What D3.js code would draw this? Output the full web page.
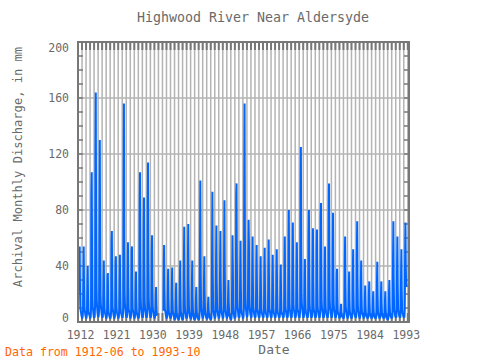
<!DOCTYPE html>
<html>
<head>
<meta charset="utf-8">
<script src="https://cdn.jsdelivr.net/npm/d3@7"></script>
<style>
  html, body { margin: 0; padding: 0; background: #fff; }
  svg { display: block; }
  text { font-family: "DejaVu Sans Mono", monospace; }
</style>
</head>
<body>
<script>
// ---- Data ----
const title = "Highwood River Near Aldersyde";
const yTitle = "Archival Monthly Discharge, in mm";
const xTitle = "Date";
const note = "Data from 1912-06 to 1993-10";
const startYear = 1912;
const startMonth = 6;
const xTickYears = [1912, 1921, 1930, 1939, 1948, 1957, 1966, 1975, 1984, 1993];
const yTickValues = [0, 40, 80, 120, 160, 200];
// monthly discharge (mm), starting 1912-06; null = missing
const discharge = [
  54,24,10,8,7,5,4,
  3,3,4,8,30,54,26,11,8,7,5,4,
  3,3,4,9,28,40,18,8,6,6,5,4,
  3,3,4,10,91,107,45,16,10,9,6,4,
  4,3,5,12,119,164,70,25,14,11,7,5,
  4,4,5,10,72,130,58,20,12,10,7,5,
  4,3,4,9,30,44,20,9,7,6,5,4,
  3,3,4,10,33,35,15,7,6,5,4,3,
  3,3,4,10,57,65,28,11,8,7,5,4,
  3,3,4,9,42,47,20,9,7,6,5,4,
  3,3,4,9,30,48,22,9,7,6,5,4,
  4,3,5,11,90,156,62,22,13,10,7,5,
  4,3,4,9,35,57,25,10,8,7,5,4,
  3,3,4,9,51,54,24,10,8,7,5,4,
  3,3,4,8,28,36,16,8,6,5,4,3,
  3,3,4,10,82,107,48,18,11,9,6,4,
  4,3,4,10,66,89,38,15,10,8,6,4,
  4,3,5,10,85,114,48,17,11,9,6,4,
  4,3,4,9,51,62,27,11,8,7,5,4,
  3,3,4,8,18,25,12,6,5,5,null,null,
  null,null,null,null,null,null,null,null,null,null,null,null,
  null,null,null,8,42,55,24,10,8,7,5,4,
  3,3,4,8,26,38,17,8,6,5,4,3,
  3,3,4,8,27,39,18,8,6,5,4,3,
  2,2,3,7,20,28,12,5,4,3,3,2,
  2,2,3,7,30,44,19,7,5,4,3,2,
  2,2,3,8,45,68,30,11,7,6,4,3,
  3,3,4,9,46,70,30,11,7,6,4,3,
  3,2,3,8,30,44,19,8,5,4,3,2,
  2,2,3,6,18,25,11,5,4,3,3,2,
  2,2,3,8,56,101,44,16,10,8,5,4,
  3,3,4,9,32,47,21,9,6,5,4,3,
  3,2,3,6,13,18,9,5,4,3,3,2,
  2,2,3,8,50,93,40,15,9,7,5,4,
  3,3,4,9,46,69,30,12,8,7,5,4,
  3,3,4,9,43,65,28,11,8,6,5,4,
  3,3,4,9,54,87,38,14,9,7,5,4,
  3,3,4,7,21,30,13,6,5,4,3,2,
  2,2,3,6,30,62,40,13,8,6,4,3,
  3,3,4,10,90,99,45,16,10,9,6,4,
  4,3,4,9,38,58,25,10,7,6,5,4,
  3,3,4,10,99,156,66,22,13,10,7,5,
  4,4,5,10,48,73,57,18,11,9,6,5,
  4,3,4,9,40,61,27,11,8,7,5,4,
  4,3,4,9,38,55,24,10,8,7,5,4,
  4,3,4,9,32,47,21,9,7,6,5,4,
  4,3,4,9,36,53,23,10,7,6,5,4,
  4,3,4,9,38,59,26,10,8,7,5,4,
  4,3,4,9,32,48,21,9,7,6,5,4,
  4,3,4,9,35,52,22,9,7,6,5,4,
  4,3,4,8,28,41,18,8,6,6,5,4,
  4,3,4,9,40,61,27,11,8,7,5,4,
  4,3,4,9,50,80,35,13,9,8,5,4,
  4,3,4,10,47,71,31,12,9,8,6,4,
  4,3,4,9,38,57,25,10,8,7,5,4,
  4,3,5,10,91,125,54,19,12,10,7,5,
  4,3,4,9,30,45,20,9,7,6,5,4,
  4,3,4,10,62,80,35,13,9,8,6,4,
  4,3,4,9,44,67,29,11,8,7,5,4,
  4,3,4,9,54,66,29,11,8,7,5,4,
  4,3,5,10,75,85,37,14,10,8,6,4,
  4,3,4,9,36,54,23,10,7,6,5,4,
  4,3,5,10,77,99,43,16,10,9,6,5,
  4,3,4,9,50,78,34,13,9,8,6,4,
  4,3,4,9,34,38,17,8,6,6,5,4,
  3,3,4,7,10,13,7,5,4,4,4,3,
  3,3,4,9,40,61,27,11,8,7,5,4,
  3,3,4,8,25,36,16,8,6,5,4,3,
  3,3,4,8,35,52,22,9,7,6,5,4,
  4,3,4,9,47,72,31,12,8,7,5,4,
  3,3,4,8,30,44,19,8,6,6,5,4,
  3,3,4,7,18,26,12,6,5,4,4,3,
  3,3,4,7,20,29,13,6,5,4,4,3,
  3,3,4,7,16,22,10,5,4,4,3,3,
  3,3,4,8,29,43,19,8,6,5,4,3,
  3,3,4,7,20,29,13,6,5,4,4,3,
  3,3,3,6,16,22,10,5,4,4,3,2,
  2,2,3,7,21,30,13,6,5,4,4,3,
  3,3,4,9,47,72,31,12,8,7,5,4,
  4,3,4,9,40,61,27,11,8,7,5,4,
  4,3,4,9,35,52,22,9,7,6,5,4,
  4,3,4,9,46,71,40,28,26,25
];

// ---- Layout ----
const W = 480, H = 360;
const pLeft = 78, pRight = 409, pTop = 42, pBottom = 322;
const grey = "#777777";
const textGrey = "#6a6a6a";

const pts = discharge.map((v, i) => {
  const m = startMonth - 1 + i;
  return { t: startYear + m / 12, v: v };
});

const x = d3.scaleLinear().domain([1912, 1994.3]).range([pLeft, pRight]);
const y = d3.scaleLinear().domain([0, 200]).range([pBottom, pTop]);

const svg = d3.select("body").append("svg").attr("width", W).attr("height", H);

// grid
const gridYears = d3.range(1913, 1995).filter(yy => x(yy) < pRight - 1);
svg.append("g").selectAll("line").data(gridYears).join("line")
  .attr("x1", d => x(d)).attr("x2", d => x(d))
  .attr("y1", pTop).attr("y2", pBottom)
  .attr("stroke", "#b4b4b4").attr("stroke-width", 1.5);
svg.append("g").selectAll("line").data([40, 80, 120, 160]).join("line")
  .attr("x1", pLeft).attr("x2", pRight)
  .attr("y1", d => y(d)).attr("y2", d => y(d))
  .attr("stroke", "#b4b4b4").attr("stroke-width", 1.5);

// year tick combs top and bottom
const combYears = d3.range(1912, 1995).filter(yy => x(yy) <= pRight);
svg.append("g").selectAll("line").data(combYears).join("line")
  .attr("x1", d => x(d)).attr("x2", d => x(d))
  .attr("y1", pTop).attr("y2", pTop + 8)
  .attr("stroke", grey).attr("stroke-width", 2);
svg.append("g").selectAll("line").data(combYears).join("line")
  .attr("x1", d => x(d)).attr("x2", d => x(d))
  .attr("y1", pBottom - 9).attr("y2", pBottom)
  .attr("stroke", grey).attr("stroke-width", 2);

// minor y ticks left and right
const minorY = d3.range(10, 200, 10);
svg.append("g").selectAll("line").data(minorY).join("line")
  .attr("x1", pLeft).attr("x2", pLeft + 5)
  .attr("y1", d => y(d)).attr("y2", d => y(d))
  .attr("stroke", grey).attr("stroke-width", 1.5);
svg.append("g").selectAll("line").data(minorY).join("line")
  .attr("x1", pRight - 5).attr("x2", pRight)
  .attr("y1", d => y(d)).attr("y2", d => y(d))
  .attr("stroke", grey).attr("stroke-width", 1.5);

// data line
const line = d3.line().defined(d => d.v != null)
  .x(d => x(d.t)).y(d => y(d.v));
svg.append("path").datum(pts)
  .attr("d", line)
  .attr("fill", "none")
  .attr("stroke", "#0066ff")
  .attr("stroke-width", 2)
  .attr("stroke-linejoin", "miter");

// frame
svg.append("rect").attr("x", pLeft).attr("y", pTop)
  .attr("width", pRight - pLeft).attr("height", pBottom - pTop)
  .attr("fill", "none").attr("stroke", grey).attr("stroke-width", 2);

// axes labels
const xAxis = d3.axisBottom(x).tickValues(xTickYears).tickFormat(d3.format("d")).tickSize(0);
const gx = svg.append("g").attr("transform", `translate(2,${pBottom + 6})`).call(xAxis);
gx.select(".domain").remove();
gx.selectAll("text").attr("fill", textGrey).style("font-size", "11.5px")
  .style("font-family", "'DejaVu Sans Mono', monospace");

const yAxis = d3.axisLeft(y).tickValues(yTickValues).tickSize(0);
const gy = svg.append("g").attr("transform", `translate(${pLeft - 6},0)`).call(yAxis);
gy.select(".domain").remove();
gy.selectAll("text").attr("fill", textGrey).style("font-size", "11.5px")
  .style("font-family", "'DejaVu Sans Mono', monospace")
  .attr("dy", d => d === 200 ? "0.85em" : (d === 0 ? "-0.05em" : "0.32em"));

// titles
svg.append("text").attr("x", 253).attr("y", 22).attr("text-anchor", "middle")
  .attr("fill", textGrey).style("font-size", "13.3px").text(title);
svg.append("text").attr("x", 274).attr("y", 354).attr("text-anchor", "middle")
  .attr("fill", textGrey).style("font-size", "13px").text(xTitle);
svg.append("text").attr("transform", "translate(22,167) rotate(-90)")
  .attr("text-anchor", "middle").attr("fill", textGrey)
  .style("font-size", "12.1px").text(yTitle);
svg.append("text").attr("x", 5).attr("y", 356)
  .attr("fill", "#ff6600").style("font-size", "11.6px").text(note);
</script>
</body>
</html>
